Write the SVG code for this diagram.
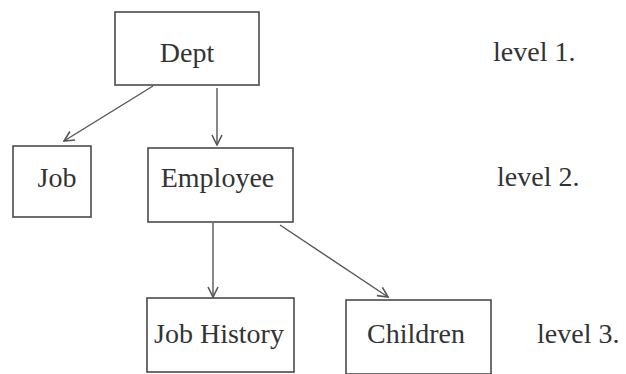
<svg xmlns="http://www.w3.org/2000/svg" width="626" height="374" viewBox="0 0 626 374">
  <style>
    .box { fill: none; stroke: #4a4a4a; stroke-width: 1.6; }
    .lbl { font-family: "Liberation Serif", "Times New Roman", serif; font-size: 28px; fill: #333; }
    .mid { text-anchor: middle; }
    .edge { fill: none; stroke: #555; stroke-width: 1.4; marker-end: url(#vhead); }
  </style>
  <defs>
    <marker id="vhead" viewBox="0 0 12 12" refX="11" refY="6" markerWidth="12" markerHeight="12" markerUnits="userSpaceOnUse" orient="auto">
      <path d="M1,1 L11,6 L1,11" fill="none" stroke="#555" stroke-width="1.6"/>
    </marker>
  </defs>

  <rect width="626" height="374" fill="#fff"/>

  <g id="connectors">
    <line class="edge" x1="153" y1="86" x2="64" y2="141"/>
    <line class="edge" x1="217" y1="88" x2="217" y2="145"/>
    <line class="edge" x1="213" y1="223" x2="213" y2="297"/>
    <line class="edge" x1="280" y1="225" x2="388" y2="297"/>
  </g>

  <g id="dept">
    <rect class="box" x="115" y="12" width="144" height="73"/>
    <text class="lbl mid" x="187" y="62">Dept</text>
  </g>
  <g id="job">
    <rect class="box" x="13" y="146" width="78" height="71"/>
    <text class="lbl mid" x="57" y="187">Job</text>
  </g>
  <g id="employee">
    <rect class="box" x="148" y="148" width="145" height="74"/>
    <text class="lbl mid" x="217.5" y="187">Employee</text>
  </g>
  <g id="job-history">
    <rect class="box" x="147" y="298" width="147" height="74"/>
    <text class="lbl mid" x="219" y="343">Job History</text>
  </g>
  <g id="children">
    <rect class="box" x="346" y="300" width="145" height="74"/>
    <text class="lbl mid" x="416" y="343">Children</text>
  </g>

  <g id="levels">
    <text class="lbl" x="493" y="61">level 1.</text>
    <text class="lbl" x="497" y="186">level 2.</text>
    <text class="lbl" x="537" y="343">level 3.</text>
  </g>
</svg>
